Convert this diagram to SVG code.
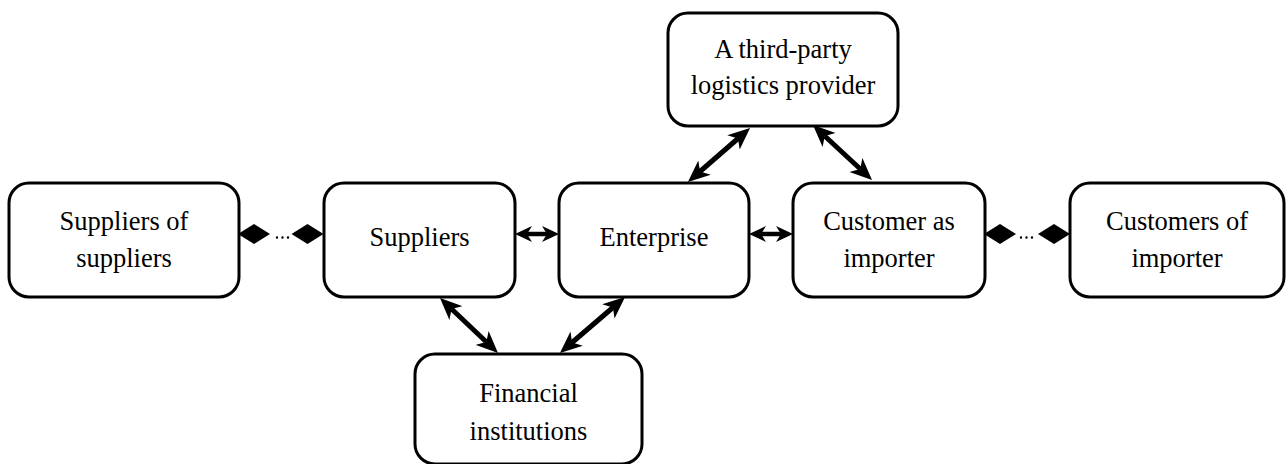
<svg xmlns="http://www.w3.org/2000/svg" xmlns:xlink="http://www.w3.org/1999/xlink" width="1288" height="464" viewBox="0 0 1288 464">
  <style>
    .box { fill: #ffffff; stroke: #000000; stroke-width: 3; }
    .label { font-family: 'Liberation Serif', 'Times New Roman', serif; font-size: 26.5px; fill: #000000; text-anchor: middle; }
    .link { fill: none; stroke: #000000; stroke-width: 5; marker-start: url(#head); marker-end: url(#head); }
    .link.short { stroke-width: 4.5; marker-start: url(#head-sm); marker-end: url(#head-sm); }
    .dots { fill: none; stroke: #000000; stroke-width: 2.4; stroke-linecap: round; stroke-dasharray: 0 5.5; }
  </style>
  <defs>
    <!-- concave filled arrowheads; reference point sits in the notch -->
    <marker id="head" viewBox="0 0 22 20" markerWidth="22" markerHeight="20" refX="6" refY="10" markerUnits="userSpaceOnUse" orient="auto-start-reverse">
      <path d="M22,10 L0,0.5 L6,10 L0,19.5 Z" fill="#000000"/>
    </marker>
    <marker id="head-sm" viewBox="0 0 17 17" markerWidth="17" markerHeight="17" refX="5" refY="8.5" markerUnits="userSpaceOnUse" orient="auto-start-reverse">
      <path d="M17,8.5 L0,0.5 L5,8.5 L0,16.5 Z" fill="#000000"/>
    </marker>
    <!-- diamond end of a loose (dotted) tie -->
    <path id="diamond" d="M-16,0 L0,-10 L16,0 L0,10 Z" fill="#000000"/>
  </defs>

  <!-- connectors -->
  <g id="connectors">
    <!-- dotted ties to the outer tiers -->
    <use xlink:href="#diamond" x="254" y="234"/>
    <use xlink:href="#diamond" x="307.5" y="234"/>
    <path class="dots" d="M277,237.5 H289"/>
    <use xlink:href="#diamond" x="1000" y="234"/>
    <use xlink:href="#diamond" x="1054" y="234"/>
    <path class="dots" d="M1021,237.5 H1033"/>

    <!-- two-way flows -->
    <path class="link short" d="M527,234 H547"/>
    <path class="link short" d="M761,234 H781"/>
    <path class="link" d="M738,138.5 L700,171.5"/>
    <path class="link" d="M824.7,136 L860.3,169"/>
    <path class="link" d="M451.6,309 L486.4,342"/>
    <path class="link" d="M612.9,307.5 L572.1,342.5"/>
  </g>

  <g id="node-suppliers-of-suppliers">
    <rect class="box" x="9" y="183" width="230" height="114" rx="20"/>
    <text class="label" x="124" y="230">Suppliers of</text>
    <text class="label" x="124" y="267">suppliers</text>
  </g>

  <g id="node-suppliers">
    <rect class="box" x="324" y="183" width="191" height="114" rx="20"/>
    <text class="label" x="419.5" y="246">Suppliers</text>
  </g>

  <g id="node-enterprise">
    <rect class="box" x="559" y="183" width="190" height="114" rx="20"/>
    <text class="label" x="654" y="246">Enterprise</text>
  </g>

  <g id="node-customer-as-importer">
    <rect class="box" x="793" y="183" width="192" height="114" rx="20"/>
    <text class="label" x="889" y="230">Customer as</text>
    <text class="label" x="889" y="267">importer</text>
  </g>

  <g id="node-customers-of-importer">
    <rect class="box" x="1070" y="183" width="214" height="114" rx="20"/>
    <text class="label" x="1177" y="230">Customers of</text>
    <text class="label" x="1177" y="267">importer</text>
  </g>

  <g id="node-logistics-provider">
    <rect class="box" x="668" y="13" width="230" height="113" rx="20"/>
    <text class="label" x="783" y="58">A third-party</text>
    <text class="label" x="783" y="94">logistics provider</text>
  </g>

  <g id="node-financial-institutions">
    <rect class="box" x="415" y="354" width="227" height="110" rx="20"/>
    <text class="label" x="528.5" y="402">Financial</text>
    <text class="label" x="528.5" y="440">institutions</text>
  </g>
</svg>
